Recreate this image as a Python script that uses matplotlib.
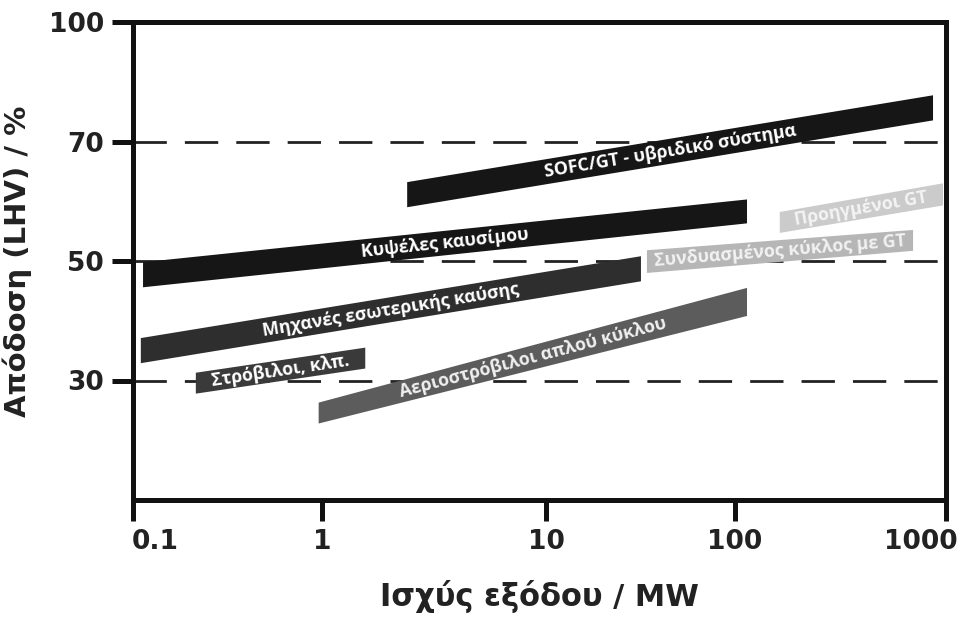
import numpy as np
import matplotlib
matplotlib.use("Agg")
import matplotlib.pyplot as plt
from matplotlib.patches import Polygon
from matplotlib.transforms import ScaledTranslation

# ---------------- data ----------------
band_names = [
    "SOFC/GT - υβριδικό σύστημα",
    "Κυψέλες καυσίμου",
    "Μηχανές εσωτερικής καύσης",
    "Στρόβιλοι, κλπ.",
    "Αεριοστρόβιλοι απλού κύκλου",
    "Συνδυασμένος κύκλος με GT",
    "Προηγμένοι GT",
]
# power range (MW)
p_start = [2.4, 0.113, 0.11, 0.215, 0.96, 34.2, 163]
p_end = [868, 114, 31.8, 1.56, 114, 698, 968]
# efficiency (%) lower/upper edge at start and end of each band
eff_lo_start = [59.0, 45.6, 32.9, 27.8, 22.8, 48.0, 54.7]
eff_hi_start = [63.2, 49.8, 37.1, 31.3, 26.3, 51.8, 58.2]
eff_lo_end = [75.3, 56.3, 46.6, 32.0, 40.8, 51.7, 59.3]
eff_hi_end = [81.6, 60.3, 50.8, 35.5, 45.5, 55.2, 63.0]
band_colors = ["#161616", "#161616", "#2e2e2e", "#3a3a3a", "#5c5c5c", "#b6b6b6", "#cbcbcb"]
text_colors = ["white", "white", "white", "white", "#f0f0f0", "#f2f2f2", "#f4f4f4"]

x_ticks = [0.1, 1, 10, 100, 1000]
x_tick_labels = ["0.1", "1", "10", "100", "1000"]
y_ticks = [30, 50, 70, 100]
y_tick_labels = ["30", "50", "70", "100"]
ref_lines = [30, 50, 70]

# axis mapping as drawn in the original (nonuniform printed spacing)
x_dec = [-1, 0, 1, 2, 3]
x_pos = [0, 189, 413, 602, 813]
y_val = [10, 30, 50, 70, 100]
y_pos = [0, 1, 2, 3, 4]


def fx(x):
    x = np.asarray(x, dtype=float)
    return np.interp(np.log10(np.clip(x, 1e-12, None)), x_dec, x_pos)


def ix(v):
    return 10 ** np.interp(np.asarray(v, dtype=float), x_pos, x_dec)


def fy(y):
    return np.interp(np.asarray(y, dtype=float), y_val, y_pos)


def iy(v):
    return np.interp(np.asarray(v, dtype=float), y_pos, y_val)


# ---------------- figure ----------------
fig = plt.figure(figsize=(9.61, 6.20), dpi=100)
ax = fig.add_axes([133 / 961, 120 / 620, (946 - 133) / 961, (500 - 22) / 620])
ax.set_xscale("function", functions=(fx, ix))
ax.set_yscale("function", functions=(fy, iy))
ax.set_xlim(0.1, 1000)
ax.set_ylim(10, 100)

ax.set_xticks(x_ticks)
ax.set_xticklabels(x_tick_labels)
ax.set_yticks(y_ticks)
ax.set_yticklabels(y_tick_labels)
ax.xaxis.set_minor_locator(matplotlib.ticker.NullLocator())
ax.yaxis.set_minor_locator(matplotlib.ticker.NullLocator())

for s in ax.spines.values():
    s.set_linewidth(3.6)
    s.set_color("#111111")
ax.tick_params(axis="both", direction="out", length=15, width=3.6, color="#111111",
               labelsize=19, pad=6)
for lab in ax.get_xticklabels() + ax.get_yticklabels():
    lab.set_fontweight("bold")
    lab.set_family("DejaVu Sans")
    lab.set_color("#222222")

# end labels sit slightly inward in the original
xl = ax.get_xticklabels()
xl[0].set_transform(xl[0].get_transform() + ScaledTranslation(16 / 72, 0, fig.dpi_scale_trans))
xl[-1].set_transform(xl[-1].get_transform() + ScaledTranslation(-18 / 72, 0, fig.dpi_scale_trans))

for yv in ref_lines:
    ax.axhline(yv, color="#222222", lw=2.0, zorder=1, dashes=(12, 6.5))

for i in range(len(band_names)):
    xs = [p_start[i], p_end[i], p_end[i], p_start[i]]
    ys = [eff_hi_start[i], eff_hi_end[i], eff_lo_end[i], eff_lo_start[i]]
    poly = Polygon(np.column_stack([xs, ys]), closed=True, facecolor=band_colors[i],
                   edgecolor="none", zorder=3)
    ax.add_patch(poly)
    # label centered on band, rotated along band in display space
    c0 = ax.transData.transform((p_start[i], (eff_lo_start[i] + eff_hi_start[i]) / 2))
    c1 = ax.transData.transform((p_end[i], (eff_lo_end[i] + eff_hi_end[i]) / 2))
    mid = (c0 + c1) / 2
    ang = np.degrees(np.arctan2(c1[1] - c0[1], c1[0] - c0[0]))
    mx, my = ax.transData.inverted().transform(mid)
    ax.text(mx, my, band_names[i], rotation=ang, rotation_mode="anchor",
            ha="center", va="center", color=text_colors[i], fontsize=12.8,
            fontweight="bold", family=["Open Sans", "DejaVu Sans"], zorder=4)

ax.set_xlabel("Ισχύς εξόδου / MW", fontsize=22, fontweight="bold",
              family="DejaVu Sans", color="#222222", labelpad=18)
ax.set_ylabel("Απόδοση (LHV) / %", fontsize=21, fontweight="bold",
              family="DejaVu Sans", color="#222222", labelpad=12)

fig.savefig("out.png", dpi=100)
